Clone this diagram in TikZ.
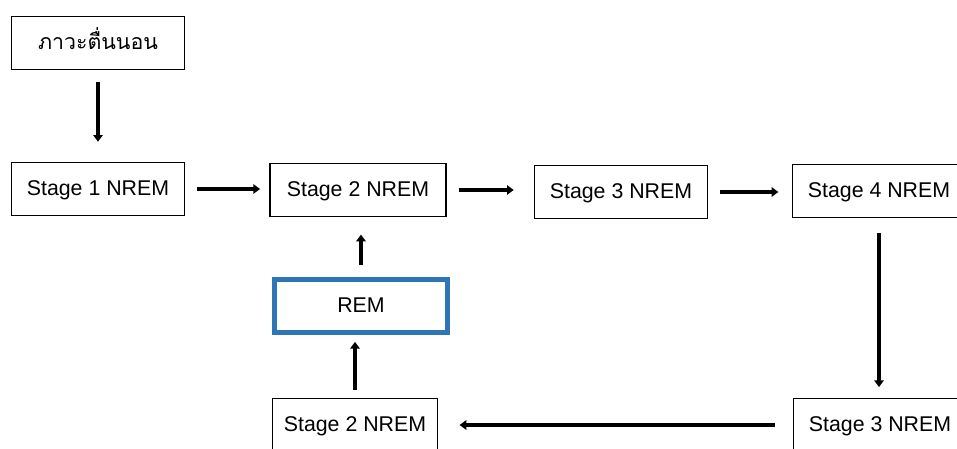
\documentclass[tikz,border=0pt]{standalone}
\usepackage{fontspec}
\setmainfont{Liberation Sans}
\newfontfamily\thaifont[Script=Thai]{Loma}
\usetikzlibrary{arrows.meta}
\definecolor{remblue}{HTML}{2E75B6}

\begin{document}
\begin{tikzpicture}[
    x=0.75pt, y=-0.75pt,
    box/.style={
        rectangle,
        draw,
        line width=0.9pt,
        minimum width=130pt,
        minimum height=40pt,
        inner sep=0pt,
        text height=10pt,
        text depth=0pt,
        align=center,
        font=\fontsize{16}{19}\selectfont
    },
    arrow/.style={-{Triangle[length=5pt,width=7pt]}, line width=3pt,
        shorten <=9pt, shorten >=8pt}
]

\path[use as bounding box] (0,0) rectangle (957,449);
\clip (0,0) rectangle (957,449);

% Nodes
\node[box] (wake) at (98,43) {\thaifont ภาวะตื่นนอน};

\node[box] (stg1) at (98,189) {Stage 1 NREM};

\node[box, minimum width=132pt] (stg2) at (358,190) {Stage 2 NREM};

\node[box] (stg3) at (621,192) {Stage 3 NREM};

\node[box] (stg4) at (879,191) {Stage 4 NREM};

\node[box, draw=remblue, line width=3.8pt, minimum width=130pt,
      minimum height=40pt] (rem) at (361,306) {REM};

\node[box, minimum width=124pt] (stg2b) at (355,425) {Stage 2 NREM};

\node[box] (stg3b) at (880,425) {Stage 3 NREM};

% Arrows
\draw[arrow, shorten >=15pt] (wake) -- (stg1);
\draw[arrow, shorten >=7pt] (stg1.east) -- (stg1.east -| stg2.west);
\draw[arrow, shorten >=15pt] (stg2.east) -- (stg2.east -| stg3.west);
\draw[arrow, shorten >=10pt] (stg3.east) -- (stg3.east -| stg4.west);
\draw[arrow, shorten <=11pt] (stg4.south) -- (stg4.south |- stg3b.north);
\draw[arrow, shorten <=13pt, shorten >=16pt] (stg3b.west) -- (stg3b.west -| stg2b.east);
\draw[arrow, shorten <=6pt, shorten >=5pt] (stg2b.north) -- (stg2b.north |- rem.south);
\draw[arrow, shorten >=13pt] (rem.north) -- (rem.north |- stg2.south);

\end{tikzpicture}
\end{document}
